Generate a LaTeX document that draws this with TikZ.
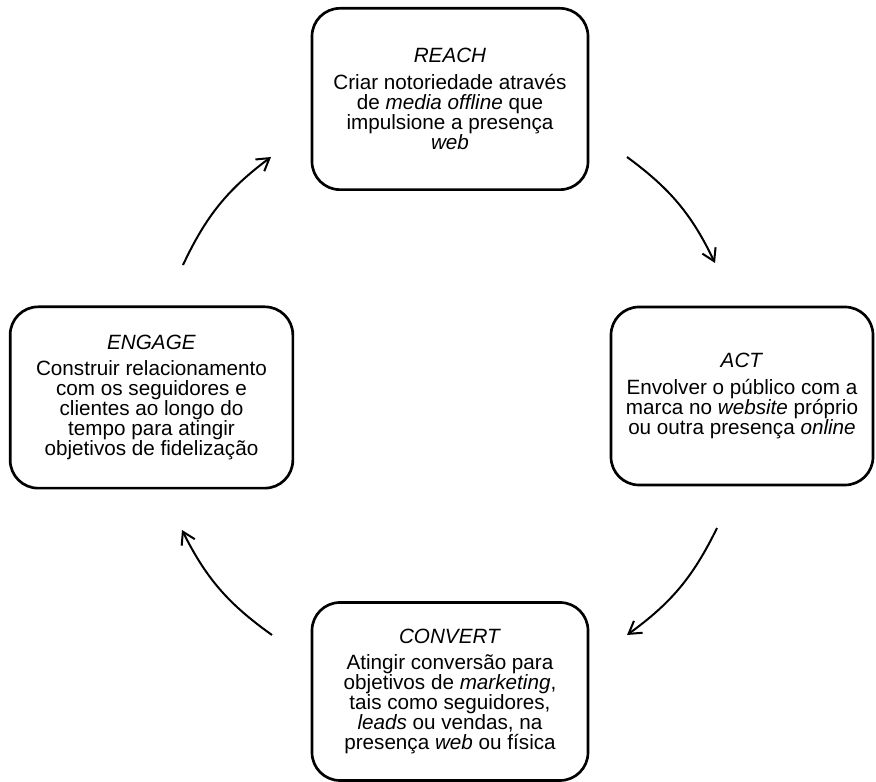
\documentclass[tikz,border=0pt]{standalone}
\usepackage{fontspec}
\setmainfont{Liberation Sans}
\usetikzlibrary{positioning}
\usetikzlibrary{arrows.meta}
\tikzstyle{stage} = [draw, line width=2pt, rounded corners=21pt, align=center,
    inner sep=0pt, font=\fontsize{15.5}{15}\selectfont]
\tikzstyle{cyc} = [line width=1.5pt, -{Straight Barb[length=9pt,width=11pt,line width=1.5pt]}, bend left=14]

\begin{document}
\begin{tikzpicture}[x=0.75pt,y=0.75pt]
    \useasboundingbox (0,0) rectangle (876,782);
    % Draw the four stages
    \node[stage, minimum width=207pt, minimum height=136pt] (reach) at (450,683)
        {\textit{REACH}\\[5pt] Criar notoriedade através\\ de \textit{media offline} que\\ impulsione a presença\\ \textit{web}};
    \node[stage, minimum width=196.5pt, minimum height=133.5pt] (act) at (742,386)
        {\textit{ACT}\\[5pt] Envolver o público com a\\ marca no \textit{website} próprio\\ ou outra presença \textit{online}};
    \node[stage, minimum width=207pt, minimum height=133.5pt] (convert) at (450,90.5)
        {\textit{CONVERT}\\[5pt] Atingir conversão para\\ objetivos de \textit{marketing},\\ tais como seguidores,\\ \textit{leads} ou vendas, na\\ presença \textit{web} ou física};
    \node[stage, minimum width=212pt, minimum height=136pt] (engage) at (151.5,384.5)
        {\textit{ENGAGE}\\[5pt] Construir relacionamento\\ com os seguidores e\\ clientes ao longo do\\ tempo para atingir\\ objetivos de fidelização};
    % Ends of the arrows between the stages
    \coordinate (e_1) at (183,517);
    \coordinate (r_1) at (271,625);
    \coordinate (r_2) at (627,625);
    \coordinate (a_1) at (715,519);
    \coordinate (a_2) at (717,254);
    \coordinate (c_1) at (627,147);
    \coordinate (c_2) at (272,147);
    \coordinate (e_2) at (182,252);
    \draw[cyc] (e_1) to (r_1);
    \draw[cyc] (r_2) to (a_1);
    \draw[cyc] (a_2) to (c_1);
    \draw[cyc] (c_2) to (e_2);
\end{tikzpicture}
\end{document}
